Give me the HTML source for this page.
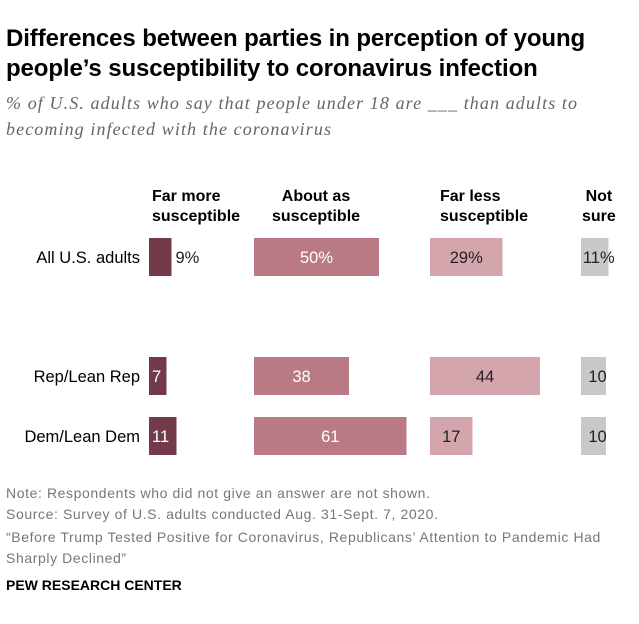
<!DOCTYPE html>
<html><head><meta charset="utf-8"><style>
body{margin:0;width:639px;height:624px;background:#fff;font-family:"Liberation Sans",sans-serif;position:relative;overflow:hidden}
.a{position:absolute;white-space:nowrap}
h1{position:absolute;left:6px;top:24px;margin:0;font-size:24px;line-height:30px;font-weight:bold;color:#000;letter-spacing:-0.1px}
.sub{left:6px;top:90px;font-family:"Liberation Serif",serif;font-style:italic;font-size:18px;line-height:26px;color:#666;letter-spacing:1.1px}
.hdr{font-weight:bold;font-size:16px;line-height:20px;color:#000;top:187px}
.note{left:6px;font-size:14px;color:#777;letter-spacing:0.6px}
</style></head><body>
<h1>Differences between parties in perception of young<br>people’s susceptibility to coronavirus infection</h1>
<div class="a sub">% of U.S. adults who say that people under 18 are ___ than adults to<br>becoming infected with the coronavirus</div>
<div class="a hdr" style="left:152px">Far more<br>susceptible</div>
<div class="a hdr" style="left:272px;text-align:center">About as<br>susceptible</div>
<div class="a hdr" style="left:440px">Far less<br>susceptible</div>
<div class="a hdr" style="left:582px;text-align:center">Not<br>sure</div>
<svg id="chart" class="a" style="left:0;top:0" width="639" height="624"></svg>
<div class="a note" style="top:485px">Note: Respondents who did not give an answer are not shown.</div>
<div class="a note" style="top:506px">Source: Survey of U.S. adults conducted Aug. 31-Sept. 7, 2020.</div>
<div class="a note" style="top:527px;line-height:21px">“Before Trump Tested Positive for Coronavirus, Republicans’ Attention to Pandemic Had<br>Sharply Declined”</div>
<div class="a" style="left:6px;top:577px;font-size:14px;font-weight:bold;color:#000">PEW RESEARCH CENTER</div>
<script>
const groups=["All U.S. adults","Rep/Lean Rep","Dem/Lean Dem"];
const farMore=[9,7,11];
const aboutAs=[50,38,61];
const farLess=[29,44,17];
const notSure=[11,10,10];
const labelsFirstRow=["9%","50%","29%","11%"];
const svg=document.getElementById('chart');
const NS="http://www.w3.org/2000/svg";
const rowY=[238,357,417], barH=38, scale=2.5;
const cols=[{d:farMore,x:149,c:"#733b4a",t:"#fff",n:"far-more"},{d:aboutAs,x:254,c:"#b97a85",t:"#fff",n:"about-as"},{d:farLess,x:430,c:"#d4a5ad",t:"#222",n:"far-less"},{d:notSure,x:581,c:"#c8c8c8",t:"#222",n:"not-sure"}];
function xw(v){return v*scale;}
groups.forEach((g,i)=>{
  const lab=document.createElementNS(NS,'text');
  
  
  lab.setAttribute('x',140);lab.setAttribute('y',rowY[i]+barH/2+6);lab.setAttribute('text-anchor','end');
  lab.setAttribute('font-size','16.5');lab.setAttribute('font-family','Liberation Sans, sans-serif');lab.textContent=g;svg.appendChild(lab);
  cols.forEach((c,j)=>{
    const v=c.d[i],w=xw(v);
    const r=document.createElementNS(NS,'rect');
    
    
    r.setAttribute('x',c.x);r.setAttribute('y',rowY[i]);r.setAttribute('width',w);r.setAttribute('height',barH);r.setAttribute('fill',c.c);svg.appendChild(r);
    const t=document.createElementNS(NS,'text');
    
    
    const txt=i===0?labelsFirstRow[j]:String(v);
    let x,anchor='middle',fill=c.t;
    if(j===0){ if(i===0){x=c.x+w+4;anchor='start';fill='#222';} else {x=c.x+3;anchor='start';} }
    else if(j===3){x=c.x+w/2+4;}
    else x=c.x+w/2;
    t.setAttribute('x',x);t.setAttribute('y',rowY[i]+barH/2+6);t.setAttribute('text-anchor',anchor);t.setAttribute('fill',fill);
    t.setAttribute('font-size','16.5');t.setAttribute('font-family','Liberation Sans, sans-serif');t.textContent=txt;svg.appendChild(t);
  });
});
</script>
</body></html>
